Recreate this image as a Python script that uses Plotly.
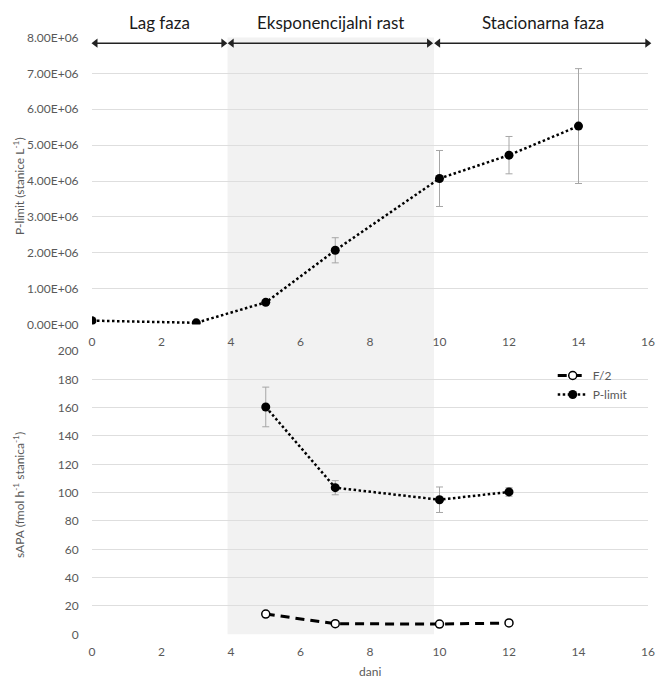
import plotly.graph_objects as go

# ---- data ----
days_top = [0, 3, 5, 7, 10, 12, 14]
plimit_cells = [1.1e5, 5.0e4, 6.2e5, 2.07e6, 4.07e6, 4.72e6, 5.53e6]
plimit_cells_err = [0, 0, 0, 3.5e5, 7.8e5, 5.2e5, 1.6e6]

days_bottom = [5, 7, 10, 12]
sapa_f2 = [14.3, 7.5, 7.2, 8.0]
sapa_plimit = [160.5, 103.5, 95.0, 100.5]
sapa_plimit_err = [14.0, 5.0, 9.0, 3.0]

top_ticks = [0, 1e6, 2e6, 3e6, 4e6, 5e6, 6e6, 7e6, 8e6]
top_tick_text = ["0.00E+00", "1.00E+06", "2.00E+06", "3.00E+06", "4.00E+06",
                 "5.00E+06", "6.00E+06", "7.00E+06", "8.00E+06"]
x_ticks = [0, 2, 4, 6, 8, 10, 12, 14, 16]
bottom_ticks = [0, 20, 40, 60, 80, 100, 120, 140, 160, 180, 200]

phase_labels = ["Lag faza", "Eksponencijalni rast", "Stacionarna faza"]
phase_start = [0.1, 4.02, 9.96]
phase_end = [3.78, 9.7, 15.98]
shade_start = 3.9
shade_end = 9.84

FONT = "Lato"
GRAY = "#595959"
GRID = "#dedede"
W, H = 658, 679

fig = go.Figure()

fig.add_shape(type="rect", xref="x", yref="paper", x0=shade_start, x1=shade_end,
              y0=1 - 634.3 / H, y1=1 - 37.4 / H, fillcolor="#f2f2f2", line=dict(width=0),
              layer="below")

# phase arrows
arrow_y = 7.84e6
for s, e in zip(phase_start, phase_end):
    fig.add_trace(go.Scatter(
        x=[s, e], y=[arrow_y, arrow_y], mode="lines+markers", xaxis="x", yaxis="y",
        line=dict(color="#222222", width=1.5),
        marker=dict(symbol=["triangle-left", "triangle-right"], size=8, color="#222222"),
        cliponaxis=False, showlegend=False, hoverinfo="skip",
    ))

fig.add_trace(go.Scatter(
    x=days_top, y=plimit_cells, mode="lines+markers", xaxis="x", yaxis="y",
    line=dict(color="black", width=2.5, dash="2.5px,2.5px"),
    marker=dict(color="black", size=9),
    error_y=dict(type="data", array=plimit_cells_err, color="#a6a6a6", thickness=1, width=3.5),
    showlegend=False,
))

fig.add_trace(go.Scatter(
    x=days_bottom, y=sapa_f2, mode="lines+markers", name="F/2", xaxis="x2", yaxis="y2",
    line=dict(color="black", width=3, dash="9px,6px"),
    marker=dict(color="white", size=8, line=dict(color="black", width=1.5)),
))
fig.add_trace(go.Scatter(
    x=days_bottom, y=sapa_plimit, mode="lines+markers", name="P-limit", xaxis="x2", yaxis="y2",
    line=dict(color="black", width=2.5, dash="2.5px,2.5px"),
    marker=dict(color="black", size=9),
    error_y=dict(type="data", array=sapa_plimit_err, color="#a6a6a6", thickness=1, width=3.5),
))

xdom = [92 / W, 648 / W]
top_dom = [1 - 324.6 / H, 1 - 37.4 / H]
bot_dom = [1 - 634.3 / H, 1 - 351 / H]

axis_font = dict(family=FONT, size=12, color=GRAY)

common_x = dict(range=[0, 16], tickvals=x_ticks, showgrid=False, zeroline=False,
                showline=False, ticks="outside", ticklen=6, tickcolor="rgba(0,0,0,0)",
                tickfont=axis_font, fixedrange=True, automargin=False)
common_y = dict(showgrid=True, gridcolor=GRID, gridwidth=1, zeroline=False, showline=False,
                ticks="outside", ticklen=10, tickcolor="rgba(0,0,0,0)", tickfont=axis_font,
                automargin=False, fixedrange=True)
fig.update_layout(
    template="none",
    width=W, height=H, autosize=False,
    margin=dict(l=0, r=0, t=0, b=0, pad=0),
    paper_bgcolor="white", plot_bgcolor="rgba(0,0,0,0)",
    font=dict(family=FONT, color=GRAY),
    xaxis=dict(domain=xdom, anchor="y", **common_x),
    yaxis=dict(domain=top_dom, anchor="x", range=[0, 8e6], tickvals=top_ticks,
               ticktext=top_tick_text, **common_y),
    xaxis2=dict(domain=xdom, anchor="y2", **common_x),
    yaxis2=dict(domain=bot_dom, anchor="x2", range=[0, 200], tickvals=bottom_ticks,
                **common_y),
    legend=dict(x=0.84, y=1 - 361 / H, xanchor="left", yanchor="top",
                bgcolor="rgba(0,0,0,0)", font=dict(family=FONT, size=12, color=GRAY),
                tracegroupgap=2, itemwidth=30),
)

# phase labels
for lab, s, e in zip(phase_labels, phase_start, phase_end):
    fig.add_annotation(x=(s + e) / 2, y=1 - 23 / H, xref="x", yref="paper",
                       text=lab, showarrow=False, xanchor="center", yanchor="middle",
                       font=dict(family=FONT, size=17, color="#1a1a1a"))

# axis titles
fig.add_annotation(x=19 / W, y=1 - 186 / H, xref="paper", yref="paper",
                   text="P-limit (stanice L<sup>-1</sup>)", textangle=-90, showarrow=False,
                   xanchor="center", yanchor="middle",
                   font=dict(family=FONT, size=12, color=GRAY))
fig.add_annotation(x=19 / W, y=1 - 495 / H, xref="paper", yref="paper",
                   text="sAPA (fmol h<sup>-1</sup> stanica<sup>-1</sup>)", textangle=-90,
                   showarrow=False, xanchor="center", yanchor="middle",
                   font=dict(family=FONT, size=12, color=GRAY))
fig.add_annotation(x=370 / W, y=1 - 671 / H, xref="paper", yref="paper",
                   text="dani", showarrow=False, xanchor="center", yanchor="middle",
                   font=dict(family=FONT, size=12, color=GRAY))

fig.write_html("out.html", config={"displayModeBar": False},
               post_script="document.body.style.margin='0';document.body.style.overflow='hidden';")
